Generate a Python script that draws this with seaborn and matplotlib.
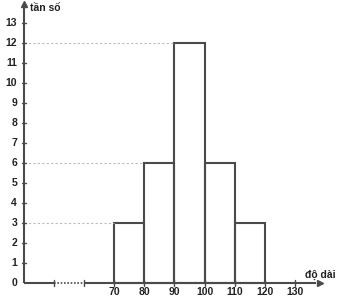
import matplotlib
matplotlib.use("Agg")
import matplotlib.pyplot as plt
import seaborn as sns
import numpy as np

# data
bin_edges = [70, 80, 90, 100, 110, 120]
counts = [3, 6, 12, 6, 3]
x_tick_values = [70, 80, 90, 100, 110, 120, 130]
y_tick_values = list(range(0, 14))
x_label = "độ dài"
y_label = "tần số"

sns.set_theme(style="white")
plt.rcParams['font.family'] = ['Liberation Sans', 'DejaVu Sans']

fig = plt.figure(figsize=(3.39, 3.0), dpi=100)
ax = fig.add_axes([0, 0, 1, 1])

axcol = "#4a4a4a"
mids = [(a + b) / 2 for a, b in zip(bin_edges[:-1], bin_edges[1:])]
sns.histplot(x=mids, weights=counts, bins=bin_edges, fill=False,
             color=axcol, edgecolor=axcol, linewidth=1.5, ax=ax)

# guide lines from y-axis to left edge of the bars
seen = set()
for left, c in zip(bin_edges[:-1], counts):
    if c in seen:
        continue
    seen.add(c)
    ax.plot([40, left], [c, c], linestyle=(0, (2, 2)), color="#bbbbbb", lw=0.8, zorder=1)

# x axis with broken segment
ax.plot([40, 50], [0, 0], color=axcol, lw=1.5, solid_capstyle='butt', clip_on=False)
ax.plot([50, 60], [0, 0], color=axcol, lw=1.2, linestyle=(0, (1, 1)), clip_on=False)
ax.plot([60, 137], [0, 0], color=axcol, lw=1.5, solid_capstyle='butt', clip_on=False)
ax.plot([138.5], [0], marker=">", markersize=5, color=axcol, clip_on=False)
# y axis
ax.plot([40, 40], [0, 13.85], color=axcol, lw=1.5, solid_capstyle='butt', clip_on=False, zorder=5)
ax.plot([40], [13.95], marker="^", markersize=5, color=axcol, clip_on=False, zorder=5)

# small tick crosses
for xv in [50, 60] + x_tick_values:
    ax.plot([xv, xv], [-0.15, 0.15], color=axcol, lw=1.0, clip_on=False)
for yv in y_tick_values[1:]:
    ax.plot([39.2, 40.8], [yv, yv], color=axcol, lw=1.0, clip_on=False)

# tick labels
for xv in x_tick_values:
    ax.text(xv, -0.47, str(xv), ha="center", va="center", fontsize=7.5, fontweight="bold", color="#222222")
for yv in y_tick_values:
    ax.text(37.7, yv, str(yv), ha="right", va="center", fontsize=7.5, fontweight="bold", color="#222222")

ax.text(42, 13.75, y_label, ha="left", va="center", fontsize=7.5, fontweight="bold", color="#222222")
ax.text(143.5, 0.4, x_label, ha="right", va="center", fontsize=7.5, fontweight="bold", color="#222222")

ax.set_xlim(40 - 24 / 3.01, 40 + 315 / 3.01)
ax.set_ylim(-17 / 20, 283 / 20)
ax.axis("off")

fig.savefig("out.png", dpi=100)
